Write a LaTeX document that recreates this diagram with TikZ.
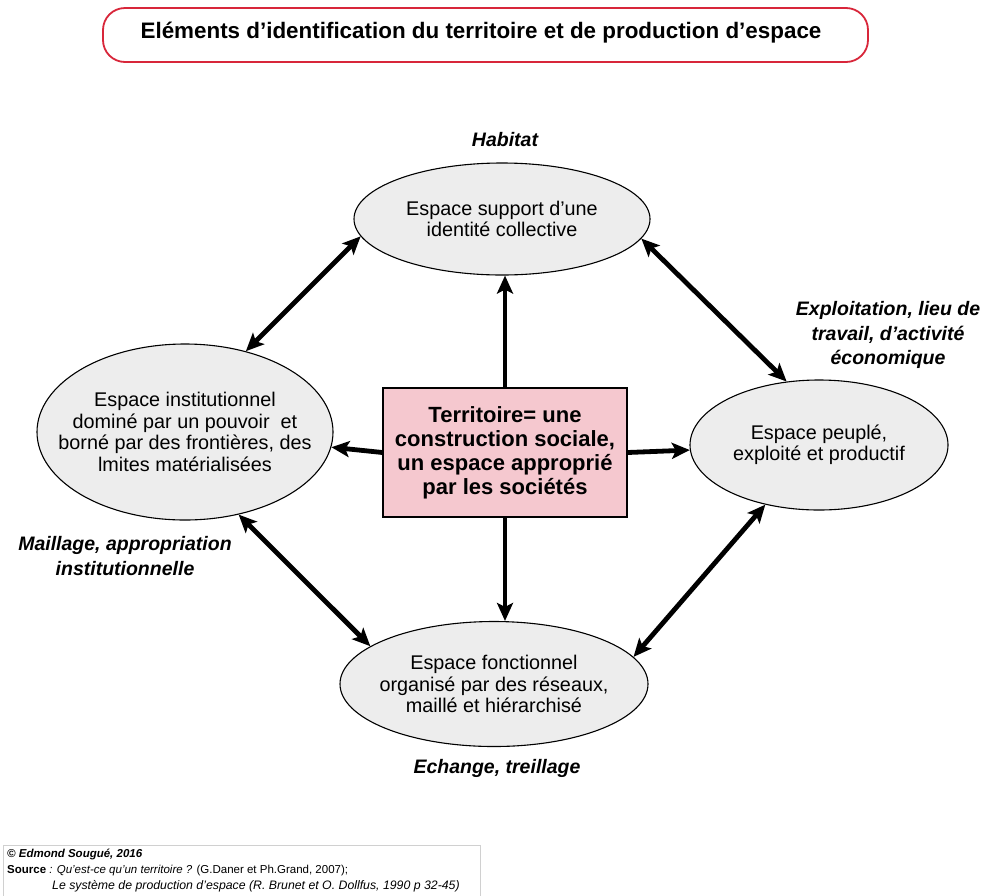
\documentclass[tikz,border=0pt]{standalone}
\usepackage{fontspec}
\setmainfont{Liberation Sans}
\usetikzlibrary{arrows.meta,shapes.geometric}
\definecolor{titlered}{HTML}{D8263A}
\definecolor{ellfill}{HTML}{EDEDED}
\definecolor{boxpink}{HTML}{F5C8CF}
\definecolor{footgray}{HTML}{D0D0D0}
\begin{document}
\begin{tikzpicture}[x=1pt,y=-1pt,
  ell/.style={ellipse,draw=black,line width=1.1pt,fill=ellfill,inner sep=-60pt,align=center,
    font=\fontsize{19.8}{21.5}\selectfont},
  centerbox/.style={rectangle,draw=black,line width=1.2pt,fill=boxpink,inner sep=0pt,align=center,
    font=\fontsize{22}{24}\selectfont\bfseries},
  lbl/.style={align=center,font=\fontsize{19.5}{24.5}\selectfont\bfseries\itshape},
  bigarrow/.style={line width=4.8pt,-{Stealth[length=18pt,width=16pt,inset=4pt]}},
  dblarrow/.style={line width=4.8pt,{Stealth[length=18pt,width=16pt,inset=4pt]}-{Stealth[length=18pt,width=16pt,inset=4pt]}},
  foot/.style={anchor=base west,inner sep=0pt,font=\fontsize{11.5}{13}\selectfont}
]
\useasboundingbox (0,0) rectangle (987,895);
\fill[white] (0,0) rectangle (987,895);

% title
\draw[titlered,line width=1.8pt,rounded corners=22pt] (103,8) rectangle (868,62);
\node[font=\fontsize{22.4}{26}\selectfont\bfseries] (title) at (481,33) {Eléments d’identification du territoire et de production d’espace};

% nodes
\node[ell,minimum width=296pt,minimum height=112pt] (T) at (502,219) {Espace support d’une\\identité collective};
\node[ell,minimum width=296pt,minimum height=176pt] (L) at (185,432) {Espace institutionnel\\dominé par un pouvoir\ \ et\\borné par des frontières, des\\lmites matérialisées};
\node[ell,minimum width=258pt,minimum height=130pt] (R) at (819,445) {Espace peuplé,\\exploité et productif};
\node[ell,minimum width=308pt,minimum height=125pt] (B) at (494,684) {Espace fonctionnel\\organisé par des réseaux,\\maillé et hiérarchisé};
\node[centerbox,minimum width=244pt,minimum height=129pt] (C) at (505,452.5) {Territoire= une\\construction sociale,\\un espace approprié\\par les sociétés};

% labels
\node[lbl] (habitat) at (505,140) {Habitat};
\node[lbl] (exploit) at (888,335) {Exploitation, lieu de\\travail, d’activité\\économique};
\node[lbl] (maillage) at (125,556) {Maillage, appropriation\\institutionnelle};
\node[lbl] (echange) at (497,768) {Echange, treillage};

% arrows from centre
\draw[bigarrow] (C.north) -- (C.north |- T.south);
\draw[bigarrow] (C.south) -- (C.south |- B.north);
\draw[bigarrow] (C.west) -- (L);
\draw[bigarrow] (C.east) -- (R);

% double arrows
\draw[dblarrow] (L.53.5) -- (T.187.7);
\draw[dblarrow] (T.352) -- (R.117.6);
\draw[dblarrow] (L.-57.4) -- (B.163.3);
\draw[dblarrow] (R.228.7) -- (B.11);

% footer
\draw[footgray,line width=0.8pt] (3,897) -- (3,845) -- (480,845) -- (480,897);
\node[foot] (f1) at (7,857) {\bfseries\itshape © Edmond Sougué, 2016};
\node[foot] (f2) at (7,873) {\textbf{Source} \textit{: Qu’est-ce qu’un territoire ?} (G.Daner et Ph.Grand, 2007);};
\node[foot,font=\fontsize{12.3}{14}\selectfont] (f3) at (52,889) {\itshape Le système de production d’espace (R. Brunet et O. Dollfus, 1990 p 32-45)};
\end{tikzpicture}
\end{document}
